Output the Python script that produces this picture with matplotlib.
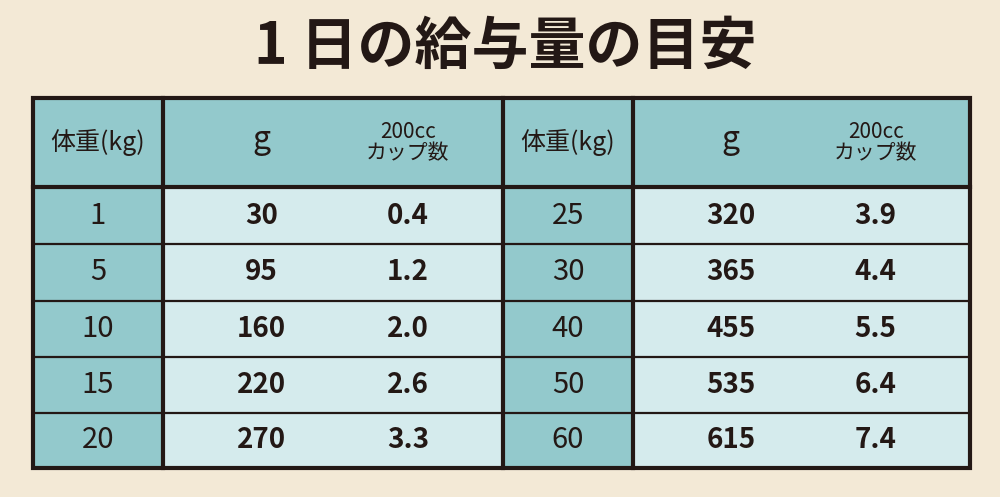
import matplotlib
matplotlib.use("Agg")
import matplotlib.pyplot as plt
from matplotlib.patches import Rectangle

plt.rcParams['font.family'] = ['Noto Sans CJK JP', 'DejaVu Sans']

title = "1 日の給与量の目安"
header_weight = "体重(kg)"
header_g = "g"
header_cup = "200cc\nカップ数"
weights_left = ["1", "5", "10", "15", "20"]
grams_left = ["30", "95", "160", "220", "270"]
cups_left = ["0.4", "1.2", "2.0", "2.6", "3.3"]
weights_right = ["25", "30", "40", "50", "60"]
grams_right = ["320", "365", "455", "535", "615"]
cups_right = ["3.9", "4.4", "5.5", "6.4", "7.4"]

BG = "#f3e9d6"; TEAL = "#93c9cc"; LIGHT = "#d5ebed"; DARK = "#231815"

fig = plt.figure(figsize=(10, 4.97), dpi=100, facecolor=BG)
ax = fig.add_axes([0, 0, 1, 1])
ax.set_xlim(0, 1000); ax.set_ylim(497, 0); ax.axis("off")

L, R, T, B = 33, 970, 98, 468
hdr_b = 187
rows = [187, 244, 301, 357, 413, 468]
blocks = [(33, 163, 503, weights_left, grams_left, cups_left),
          (503, 633, 970, weights_right, grams_right, cups_right)]

ax.text(505, 47, title, ha="center", va="center", fontsize=41, fontweight="bold", color=DARK)

for x0, x1, x2, w, g, c in blocks:
    ax.add_patch(Rectangle((x0, T), x2 - x0, hdr_b - T, color=TEAL, zorder=1))
    ax.add_patch(Rectangle((x0, hdr_b), x1 - x0, B - hdr_b, color=TEAL, zorder=1))
    ax.add_patch(Rectangle((x1, hdr_b), x2 - x1, B - hdr_b, color=LIGHT, zorder=1))
    gx = x1 + (x2 - x1) * 0.29
    cx = x1 + (x2 - x1) * 0.72
    hy = (T + hdr_b) / 2
    ax.text((x0 + x1) / 2, hy, header_weight, ha="center", va="center", fontsize=18, color=DARK, zorder=3)
    ax.text(gx, hy - 3, header_g, ha="center", va="center", fontsize=23, color=DARK, zorder=3)
    ax.text(cx, hy, header_cup, ha="center", va="center", fontsize=15, color=DARK, linespacing=1.0, zorder=3)
    for i in range(len(w)):
        y = (rows[i] + rows[i + 1]) / 2
        ax.text((x0 + x1) / 2, y, w[i], ha="center", va="center", fontsize=21, color=DARK, zorder=3)
        ax.text(gx, y, g[i], ha="center", va="center", fontsize=20, fontweight="bold", color=DARK, zorder=3)
        ax.text(cx, y, c[i], ha="center", va="center", fontsize=20, fontweight="bold", color=DARK, zorder=3)
    ax.plot([x1, x1], [T, B], color=DARK, lw=3, zorder=4)

for y in rows[1:-1]:
    ax.plot([L, R], [y, y], color=DARK, lw=1.6, zorder=4)
ax.plot([L, R], [hdr_b, hdr_b], color=DARK, lw=3, zorder=4)
ax.plot([503, 503], [T, B], color=DARK, lw=3, zorder=4)
ax.add_patch(Rectangle((L, T), R - L, B - T, fill=False, ec=DARK, lw=3, zorder=5))

fig.savefig("out.png", dpi=100, facecolor=BG)
